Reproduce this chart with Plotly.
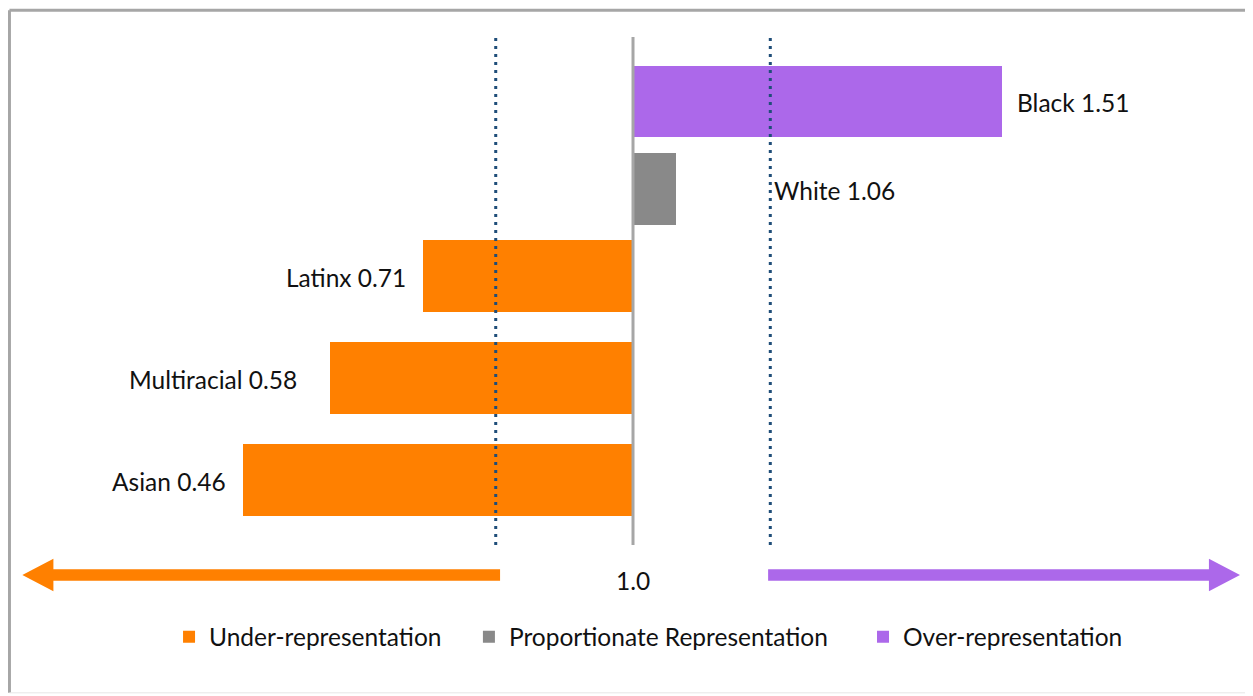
import plotly.graph_objects as go

# ---- data ----
groups = ["Black", "White", "Latinx", "Multiracial", "Asian"]
ratios = [1.51, 1.06, 0.71, 0.58, 0.46]
status = ["Over-representation", "Proportionate Representation",
          "Under-representation", "Under-representation", "Under-representation"]
legend_order = ["Under-representation", "Proportionate Representation", "Over-representation"]
parity = 1.0
lower_band = 0.81
upper_band = 1.19

# ---- layout / style (not data) ----
row_nudge = {"Black": 0.0, "White": -0.075, "Latinx": -0.155, "Multiracial": -0.077, "Asian": 0.0}
label_gap = {"Black": 13, "White": 2, "Latinx": 15, "Multiracial": 31, "Asian": 15}
BAR_W = 0.76
colors = {"Under-representation": "#FF8000",
          "Proportionate Representation": "#898989",
          "Over-representation": "#AC68EA"}
legend_ids = {"Under-representation": "legend",
              "Proportionate Representation": "legend2",
              "Over-representation": "legend3"}
legend_x = {"legend": 0.1236, "legend2": 0.369, "legend3": 0.6915}
FONT = "Lato"
FS = 24.5
TXT = "#111111"

fig = go.Figure()
for st in legend_order:
    ys = [g for g, s in zip(groups, status) if s == st]
    xs = [r - parity for r, s in zip(ratios, status) if s == st]
    offs = [-BAR_W / 2 + row_nudge[g] for g in ys]
    fig.add_trace(go.Bar(
        y=ys, x=xs, base=parity, orientation="h", name=st,
        marker=dict(color=colors[st], line=dict(width=0)),
        width=BAR_W, offset=offs, hoverinfo="skip", legend=legend_ids[st]))

# value labels
for i, (g, r) in enumerate(zip(groups, ratios)):
    yy = i + row_nudge[g]
    if r < parity:
        fig.add_annotation(x=r, y=yy, text=f"{g} {r:.2f}", xanchor="right",
                           xshift=-label_gap[g], yshift=-1, showarrow=False,
                           font=dict(family=FONT, size=FS, color=TXT))
    elif abs(r - parity) < 0.1:
        fig.add_annotation(x=upper_band, y=yy, text=f"{g} {r:.2f}", xanchor="left",
                           xshift=label_gap[g], yshift=-1, showarrow=False,
                           font=dict(family=FONT, size=FS, color=TXT))
    else:
        fig.add_annotation(x=r, y=yy, text=f"{g} {r:.2f}", xanchor="left",
                           xshift=label_gap[g], yshift=-1, showarrow=False,
                           font=dict(family=FONT, size=FS, color=TXT))

# parity line and band lines
fig.add_shape(type="line", x0=parity, x1=parity, y0=0, y1=1, yref="paper",
              line=dict(color="#A6A6A6", width=3), layer="above")
for xb in (lower_band, upper_band):
    fig.add_shape(type="line", x0=xb, x1=xb, y0=0, y1=1, yref="paper",
                  line=dict(color="#1F4E79", width=3, dash="3px,5px"), layer="above")

# parity tick label
fig.add_annotation(x=parity, y=-0.069, yref="paper", yanchor="middle", text="1.0",
                   showarrow=False, font=dict(family=FONT, size=FS, color=TXT))

# direction arrows (shaft + head), drawn in axis units
xmin, xmax = 0.1488, 1.8401
ya, sh, hh = -0.059, 0.0115, 0.032   # arrow centre (paper), half shaft, half head
head_len = 0.043
tipL, tipR = xmin + 0.006, xmax
l0 = lower_band + 0.006
fig.add_shape(type="path", yref="paper",
              path=(f"M {l0} {ya+sh} L {tipL+head_len} {ya+sh} L {tipL+head_len} {ya+hh} "
                    f"L {tipL} {ya} L {tipL+head_len} {ya-hh} L {tipL+head_len} {ya-sh} "
                    f"L {l0} {ya-sh} Z"),
              fillcolor=colors["Under-representation"], line=dict(width=0))
u0 = upper_band - 0.003
fig.add_shape(type="path", yref="paper",
              path=(f"M {u0} {ya+sh} L {tipR-head_len} {ya+sh} L {tipR-head_len} {ya+hh} "
                    f"L {tipR} {ya} L {tipR-head_len} {ya-hh} L {tipR-head_len} {ya-sh} "
                    f"L {u0} {ya-sh} Z"),
              fillcolor=colors["Over-representation"], line=dict(width=0))

# outer frame (paper coords relative to plot area)
fx0, fy1, fy0 = -0.0070, 1.0525, -0.291
fig.add_shape(type="line", xref="paper", yref="paper", x0=fx0, x1=fx0,
              y0=fy0, y1=fy1, line=dict(color="#A6A6A6", width=3))
fig.add_shape(type="line", xref="paper", yref="paper", x0=fx0, x1=1.03,
              y0=fy1, y1=fy1, line=dict(color="#A6A6A6", width=3))
fig.add_shape(type="line", xref="paper", yref="paper", x0=fx0, x1=1.03,
              y0=fy0, y1=fy0, line=dict(color="#E6E6E6", width=1))

legend_common = dict(orientation="h", xanchor="left", y=-0.181, yanchor="middle",
                     font=dict(family=FONT, size=FS, color=TXT),
                     itemclick=False, itemdoubleclick=False, bgcolor="rgba(0,0,0,0)")

fig.update_layout(
    width=1245, height=688,
    margin=dict(l=10, r=13, t=29, b=151),
    paper_bgcolor="white", plot_bgcolor="white",
    barmode="overlay", bargap=0,
    showlegend=True,
    legend=dict(x=legend_x["legend"], **legend_common),
    legend2=dict(x=legend_x["legend2"], **legend_common),
    legend3=dict(x=legend_x["legend3"], **legend_common),
    xaxis=dict(range=[xmin, xmax], visible=False, fixedrange=True),
    yaxis=dict(type="category", categoryorder="array", categoryarray=groups,
               range=[4.687, -0.682], visible=False, fixedrange=True),
    font=dict(family=FONT, size=FS, color=TXT),
)

fig.write_html("out.html")
